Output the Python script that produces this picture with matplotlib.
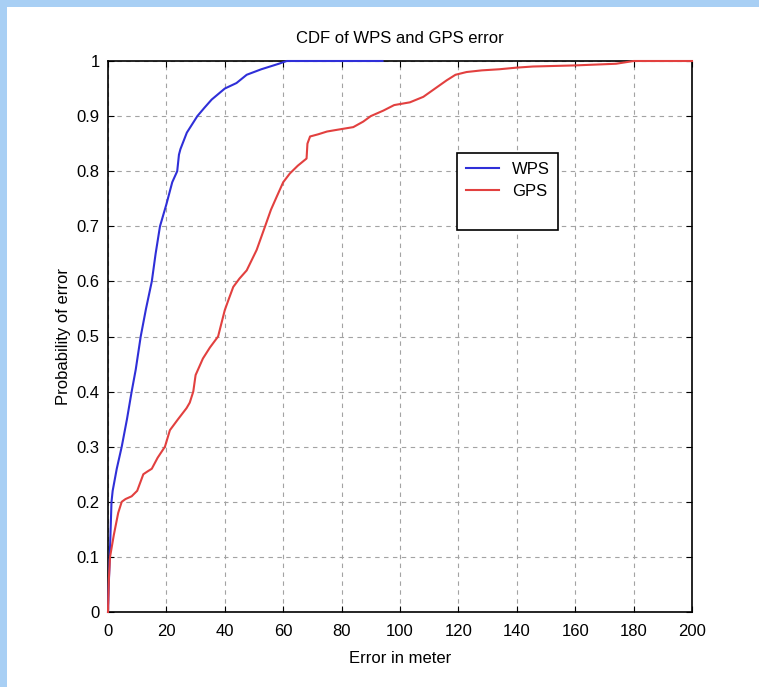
import matplotlib
matplotlib.use("Agg")
import matplotlib.pyplot as plt
from matplotlib.patches import Rectangle
from matplotlib.lines import Line2D

# ---- data ----
title = "CDF of WPS and GPS error"
xlabel = "Error in meter"
ylabel = "Probability of error"
series_names = ["WPS", "GPS"]

wps_x = [0, 0.2, 0.6, 1.2, 1.6, 3, 4.7, 6.5, 8.1, 9.5,
         11.2, 13, 15, 16.3, 17.8, 20, 22, 23.7, 24.3, 24.8,
         27, 30.6, 33, 35.5, 40, 44, 47.5, 52.5, 58.5, 61.2,
         70, 80, 94]
wps_y = [0, 0.04, 0.1, 0.2, 0.22, 0.26, 0.3, 0.35, 0.4, 0.44,
         0.5, 0.55, 0.6, 0.65, 0.7, 0.74, 0.78, 0.8, 0.83, 0.84,
         0.87, 0.9, 0.915, 0.93, 0.95, 0.96, 0.975, 0.985, 0.995, 1.0,
         1.0, 1.0, 1.0]

gps_x = [0, 0.3, 0.7, 2, 3.5, 4.7, 6, 8.1, 10, 12.1,
         13.5, 15, 17, 19.5, 21.2, 24, 26.9, 28, 29.2, 30,
         32.5, 34.9, 37.7, 40, 41.5, 42.9, 45, 47.5, 50.9, 53.8,
         55.8, 57.8, 60, 62.3, 65, 68, 68.3, 69.2, 72, 75,
         78.3, 84, 87.4, 90, 94.3, 98, 103.4, 108, 112, 116,
         119, 122.8, 128, 134, 140, 145.5, 160, 174, 180, 190,
         200]
gps_y = [0, 0.06, 0.1, 0.14, 0.18, 0.2, 0.205, 0.21, 0.22, 0.25,
         0.255, 0.26, 0.28, 0.3, 0.33, 0.35, 0.37, 0.38, 0.4, 0.43,
         0.46, 0.48, 0.5, 0.548, 0.57, 0.59, 0.605, 0.62, 0.657, 0.7,
         0.73, 0.754, 0.78, 0.796, 0.81, 0.823, 0.85, 0.863, 0.867, 0.872,
         0.875, 0.88, 0.89, 0.9, 0.91, 0.92, 0.925, 0.935, 0.95, 0.965,
         0.975, 0.98, 0.983, 0.985, 0.988, 0.99, 0.992, 0.995, 1.0, 1.0,
         1.0]

xticks = [0, 20, 40, 60, 80, 100, 120, 140, 160, 180, 200]
xticklabels = ["0", "20", "40", "60", "80", "100", "120", "140", "160", "180", "200"]
yticks = [0, 0.1, 0.2, 0.3, 0.4, 0.5, 0.6, 0.7, 0.8, 0.9, 1.0]
yticklabels = ["0", "0.1", "0.2", "0.3", "0.4", "0.5", "0.6", "0.7", "0.8", "0.9", "1"]

# ---- style ----
plt.rcParams['font.family'] = ['Liberation Sans', 'DejaVu Sans']
FS = 12
blue = '#2f2fd8'
red = '#e2403f'
LW = 1.5

fig = plt.figure(figsize=(7.59, 6.87), dpi=100, facecolor='white')
# light blue frame strips (top & left)
fig.patches.append(Rectangle((0, 0), 7/759, 1, transform=fig.transFigure,
                             facecolor='#a8cff4', edgecolor='none', zorder=-10))
fig.patches.append(Rectangle((0, 1 - 7/687), 1, 7/687, transform=fig.transFigure,
                             facecolor='#a8cff4', edgecolor='none', zorder=-10))

ax = fig.add_axes([108/759, 75/687, 584/759, 551/687])
ax.plot(wps_x, wps_y, color=blue, lw=LW, label=series_names[0], zorder=4, clip_on=False)
ax.plot(gps_x, gps_y, color=red, lw=LW, label=series_names[1], zorder=4, clip_on=False)

ax.set_xlim(0, 200)
ax.set_ylim(0, 1)
ax.set_xticks(xticks)
ax.set_xticklabels(xticklabels)
ax.set_yticks(yticks)
ax.set_yticklabels(yticklabels)
ax.tick_params(direction='in', length=4, width=0.8, top=True, right=True,
               labelsize=FS, color='black')
ax.tick_params(axis='x', pad=9)
ax.tick_params(axis='y', pad=6)
for s in ax.spines.values():
    s.set_linewidth(1.2)
    s.set_color('black')
ax.grid(True, color='#a3a3a3', linestyle=(0, (4, 4)), linewidth=0.8)
ax.set_axisbelow(True)

ax.set_title(title, fontsize=FS, pad=13)
ax.set_xlabel(xlabel, fontsize=FS, labelpad=8)
ax.set_ylabel(ylabel, fontsize=FS, labelpad=4)

handles = [Line2D([], [], color=blue, lw=LW),
           Line2D([], [], color=red, lw=LW),
           Line2D([], [], color='none')]
leg = ax.legend(handles, series_names + [""], loc='upper left',
                bbox_to_anchor=(0.598, 0.8325), fontsize=FS, frameon=True,
                fancybox=False, edgecolor='black', framealpha=1,
                handlelength=2.0, handletextpad=0.8, borderpad=0.5,
                labelspacing=0.45, borderaxespad=0)
leg.get_frame().set_linewidth(1.2)
leg.set_zorder(5)

fig.savefig("out.png", dpi=100, facecolor='white')
